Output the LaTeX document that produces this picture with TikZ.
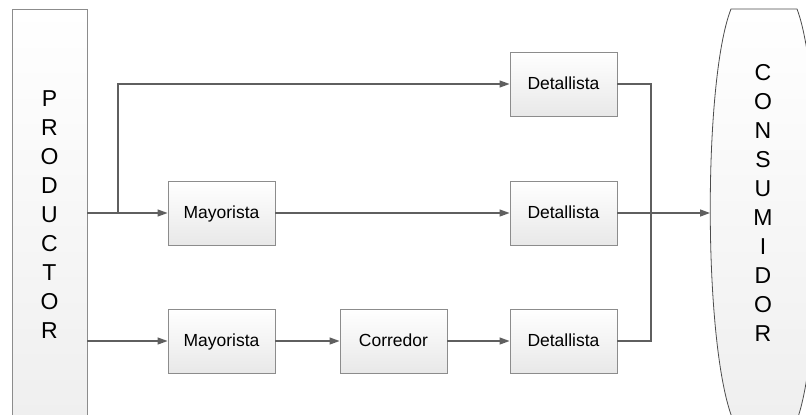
\documentclass[tikz,border=0pt]{standalone}
\usepackage{fontspec}
\setmainfont{Liberation Sans}
\usetikzlibrary{arrows.meta,shadows}
\definecolor{boxline}{HTML}{8C8C8C}
\definecolor{boxbot}{HTML}{E8E8E8}
\definecolor{wire}{HTML}{5F5F5F}
\begin{document}
\begin{tikzpicture}[x=1pt,y=-1pt,
  box/.style={draw=boxline, line width=0.9pt, top color=white, bottom color=boxbot,
    minimum width=107pt, minimum height=64pt, inner sep=0pt,
    text height=12.5pt, text depth=1pt,
    font=\fontsize{17.5}{20}\selectfont,
    drop shadow={shadow xshift=1.3pt, shadow yshift=-1.3pt, fill=black!14, opacity=1}},
  bigbox/.style={draw=boxline, line width=0.9pt, top color=white, bottom color=boxbot!70,
    minimum width=75pt, minimum height=411pt, inner sep=0pt, align=center,
    font=\fontsize{23}{29}\selectfont},
  wireline/.style={draw=wire, line width=1.3pt},
  arr/.style={wireline, -{Triangle[length=10pt,width=7pt]}}]
\useasboundingbox (0,0) rectangle (806,415);
% producer
\node[bigbox] (prod) at (49.5,214.5) {P\\R\\O\\D\\U\\C\\T\\O\\R};
% consumer shape
\path[draw=black!70, line width=0.8pt, top color=white, bottom color=boxbot!70]
  (731,9) -- (797,9) .. controls (824,80) and (824,346) .. (797,420)
  -- (733,420) .. controls (703,346) and (703,80) .. (731,9) -- cycle;
\node[align=center, font=\fontsize{23}{29}\selectfont] (cons) at (763,202.5)
  {C\\O\\N\\S\\U\\M\\I\\D\\O\\R};
\coordinate (consin) at (710,213);
% boxes
\node[box] (d1) at (563.5,84) {Detallista};
\node[box] (m1) at (221.5,213) {Mayorista};
\node[box] (d2) at (563.5,213) {Detallista};
\node[box] (m2) at (221.5,341) {Mayorista};
\node[box] (c)  at (393.5,341) {Corredor};
\node[box] (d3) at (563.5,341) {Detallista};
% connectors
\coordinate (split) at (118,213);
\coordinate (jt) at (651,84);
\coordinate (jb) at (651,341);
\draw[arr] (prod.east |- m1) -- (m1);
\draw[arr] (split) |- (d1.west);
\draw[arr] (prod.east |- m2) -- (m2);
\draw[arr] (m1) -- (d2);
\draw[arr] (m2) -- (c);
\draw[arr] (c) -- (d3);
\draw[wireline] (d1.east) -- (jt) -- (jb) -- (d3.east);
\draw[arr] (d2.east) -- (consin);
\end{tikzpicture}
\end{document}
